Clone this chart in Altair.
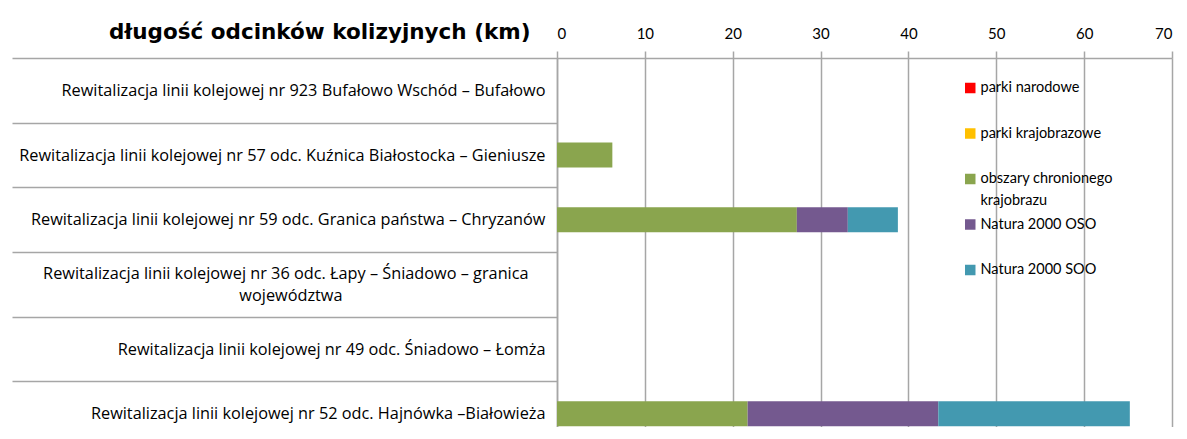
import altair as alt
import pandas as pd

categories = [
    "Rewitalizacja linii kolejowej nr 923 Bufałowo Wschód – Bufałowo",
    "Rewitalizacja linii kolejowej nr 57 odc. Kuźnica Białostocka – Gieniusze",
    "Rewitalizacja linii kolejowej nr 59 odc. Granica państwa – Chryzanów",
    "Rewitalizacja linii kolejowej nr 36 odc. Łapy – Śniadowo – granica|województwa",
    "Rewitalizacja linii kolejowej nr 49 odc. Śniadowo – Łomża",
    "Rewitalizacja linii kolejowej nr 52 odc. Hajnówka –Białowieża",
]
series_names = [
    "parki narodowe",
    "parki krajobrazowe",
    "obszary chronionego krajobrazu",
    "Natura 2000 OSO",
    "Natura 2000 SOO",
]
parki_narodowe = [0, 0, 0, 0, 0, 0]
parki_krajobrazowe = [0, 0, 0, 0, 0, 0]
obszary_chk = [0, 6.3, 27.3, 0, 0, 21.7]
natura_oso = [0, 0, 5.8, 0, 0, 21.7]
natura_soo = [0, 0, 5.7, 0, 0, 21.8]
colors = ["#ff0000", "#ffc000", "#8aa54e", "#74598f", "#4399b0"]
x_ticks = [0, 10, 20, 30, 40, 50, 60, 70]

all_series = [parki_narodowe, parki_krajobrazowe, obszary_chk, natura_oso, natura_soo]
rows = []
for si, (name, vals) in enumerate(zip(series_names, all_series)):
    for cat, v in zip(categories, vals):
        rows.append({"cat": cat, "series": name, "order": si, "value": v})
df = pd.DataFrame(rows)

FONT = "Lato"
LABEL_FONT = "Open Sans"
GRID = "#a6a6a6"

# wrapped label: lines padded with no-break spaces (closed by a zero-width
# space so they are not trimmed) so the two-line block looks centred
pad1 = "\u00a0" * 4 + "\u200b"
pad2 = "\u00a0" * 48 + "\u200b"
wrap_expr = (
    "length(split(datum.label, '|')) > 1 ? "
    f"[split(datum.label, '|')[0] + '{pad1}', split(datum.label, '|')[1] + '{pad2}'] "
    ": datum.label"
)

chart = (
    alt.Chart(df)
    .transform_filter("datum.value > 0")
    .mark_bar(size=25)
    .encode(
        x=alt.X(
            "value:Q",
            stack="zero",
            scale=alt.Scale(domain=[0, 70], nice=False),
            axis=alt.Axis(
                orient="top",
                values=x_ticks,
                grid=True,
                gridColor=GRID,
                gridWidth=1.5,
                tickColor=GRID,
                tickWidth=1.5,
                tickSize=7,
                domainColor=GRID,
                domainWidth=1.5,
                labelFont=FONT,
                labelFontSize=15,
                labelColor="#000000",
                labelPadding=10,
                title="długość odcinków kolizyjnych  (km)",
                titleFont="DejaVu Sans",
                titleFontWeight="bold",
                titleFontSize=21.5,
                titleColor="#000000",
                titleX=-27,
                titleY=-20,
                titleAlign="right",
                titleBaseline="alphabetic",
                titleAngle=0,
            ),
        ),
        y=alt.Y(
            "cat:N",
            sort=categories,
            scale=alt.Scale(domain=categories, paddingInner=0, paddingOuter=0),
            axis=alt.Axis(
                title=None,
                tickBand="extent",
                tickSize=545,
                tickColor=GRID,
                tickWidth=1.5,
                domainColor=GRID,
                domainWidth=1.5,
                labelPadding=-533,
                labelAlign="right",
                labelBaseline={
                    "condition": {"test": "length(split(datum.value, '|')) > 1", "value": "line-bottom"},
                    "value": "middle",
                },
                labelFont=LABEL_FONT,
                labelFontSize=16.3,
                labelColor="#000000",
                labelLimit=700,
                labelLineHeight=22,
                labelExpr=wrap_expr,
            ),
        ),
        color=alt.Color(
            "series:N",
            scale=alt.Scale(domain=series_names, range=colors),
            legend=alt.Legend(
                orient="none",
                legendX=406,
                legendY=22,
                title=None,
                symbolType="square",
                symbolSize=110,
                symbolStrokeWidth=0,
                labelFont=FONT,
                labelFontSize=14.5,
                labelColor="#000000",
                labelOffset=3,
                labelLimit=400,
                rowPadding=8.5,
                clipHeight=16,
                labelExpr="datum.label == 'obszary chronionego krajobrazu' ? ['obszary chronionego', 'krajobrazu'] : [datum.label, ' ']",
            ),
        ),
        order=alt.Order("order:Q"),
    )
    .properties(
        width=615,
        height=388,
        autosize=alt.AutoSizeParams(type="none"),
        padding={"left": 549, "top": 50, "right": 7, "bottom": -19},
    )
    .configure(style={"guide-label": {"lineHeight": 22}})
    .configure_view(strokeOpacity=0)
)

chart.save("out.html", embed_options={"renderer": "svg", "actions": False})
